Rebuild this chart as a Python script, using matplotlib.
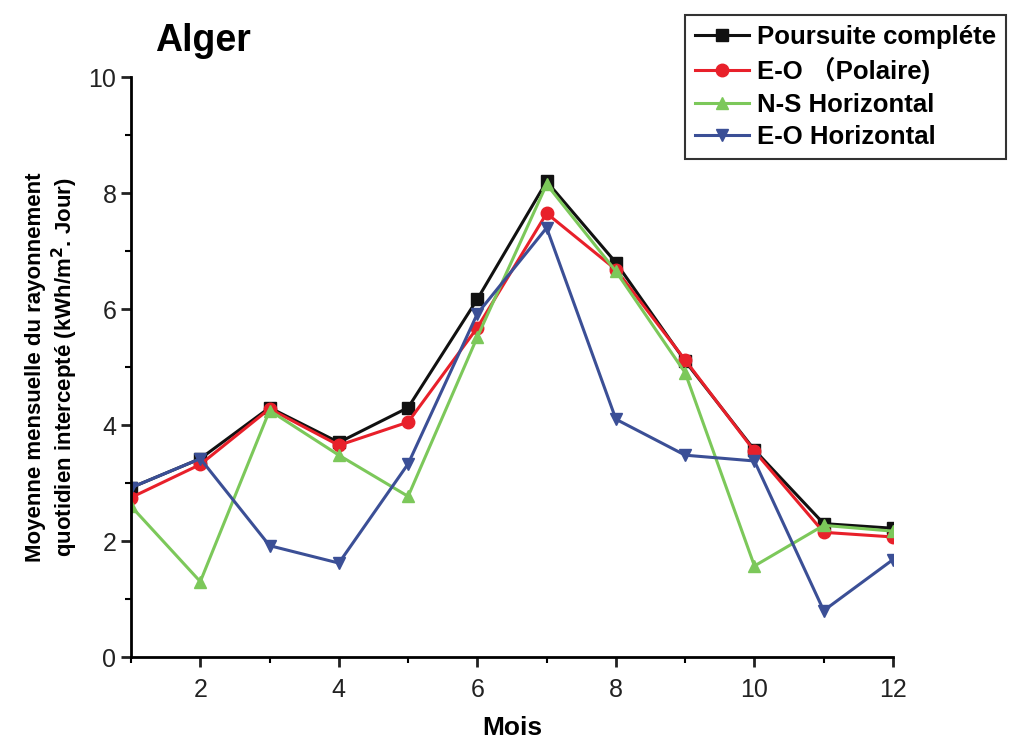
import numpy as np
import matplotlib.pyplot as plt
from matplotlib.ticker import MultipleLocator

plt.rcParams['font.family'] = ['Liberation Sans', 'Noto Sans CJK SC', 'DejaVu Sans']
plt.rcParams['font.weight'] = 'bold'

# données (Alger)
mois = np.arange(1, 13)
poursuite = [2.92, 3.42, 4.30, 3.70, 4.30, 6.17, 8.20, 6.80, 5.10, 3.57, 2.30, 2.22]
eo_polaire = [2.75, 3.32, 4.28, 3.65, 4.05, 5.68, 7.65, 6.68, 5.12, 3.55, 2.15, 2.07]
ns_horiz = [2.60, 1.30, 4.25, 3.48, 2.77, 5.52, 8.15, 6.65, 4.90, 1.57, 2.27, 2.17]
eo_horiz = [2.92, 3.42, 1.92, 1.62, 3.33, 5.92, 7.40, 4.10, 3.48, 3.38, 0.80, 1.68]

fig = plt.figure(figsize=(10.27, 7.44), dpi=100)
ax = fig.add_axes([0.1276, 0.1169, 0.7419, 0.7796])

ax.plot(mois, poursuite, color='#111111', marker='s', ms=8, lw=2.2, label='Poursuite compléte')
ax.plot(mois, eo_polaire, color='#e8202a', marker='o', ms=9, lw=2.2, label='E-O （Polaire)')
ax.plot(mois, ns_horiz, color='#7cc85a', marker='^', ms=9, lw=2.2, label='N-S Horizontal')
ax.plot(mois, eo_horiz, color='#3b4f96', marker='v', ms=9, lw=2.2, label='E-O Horizontal')

ax.set_xlim(1, 12)
ax.set_ylim(0, 10)
ax.xaxis.set_major_locator(MultipleLocator(2))
ax.xaxis.set_minor_locator(MultipleLocator(1))
ax.yaxis.set_major_locator(MultipleLocator(2))
ax.yaxis.set_minor_locator(MultipleLocator(1))
ax.tick_params(which='major', direction='out', length=7, width=2, labelsize=18, colors='#222222')
ax.tick_params(axis='x', which='major', pad=8)
ax.tick_params(which='minor', direction='out', length=4, width=1.5)
for s in ['top', 'right']:
    ax.spines[s].set_visible(False)
for s in ['left', 'bottom']:
    ax.spines[s].set_linewidth(2)
for lab in ax.get_xticklabels() + ax.get_yticklabels():
    lab.set_fontweight('normal')

ax.set_xlabel('Mois', fontsize=19, fontweight='bold', labelpad=10)
ax.set_ylabel('Moyenne mensuelle du rayonnement\nquotidien intercepté (kWh/m$^2$. Jour)',
              fontsize=16, fontweight='bold', labelpad=6)
fig.text(0.151, 0.945, 'Alger', fontsize=27, fontweight='bold', va='center')

leg = ax.legend(loc='upper left', bbox_to_anchor=(672 / 1027, 1 - 2 / 744),
                bbox_transform=fig.transFigure, fontsize=18.5, frameon=True,
                fancybox=False, edgecolor='black', handlelength=2.1,
                borderpad=0.4, labelspacing=0.32, handletextpad=0.3)
leg.get_frame().set_linewidth(1.5)
for t in leg.get_texts():
    t.set_fontweight('bold')

fig.savefig('out.png', dpi=100, facecolor='white')
